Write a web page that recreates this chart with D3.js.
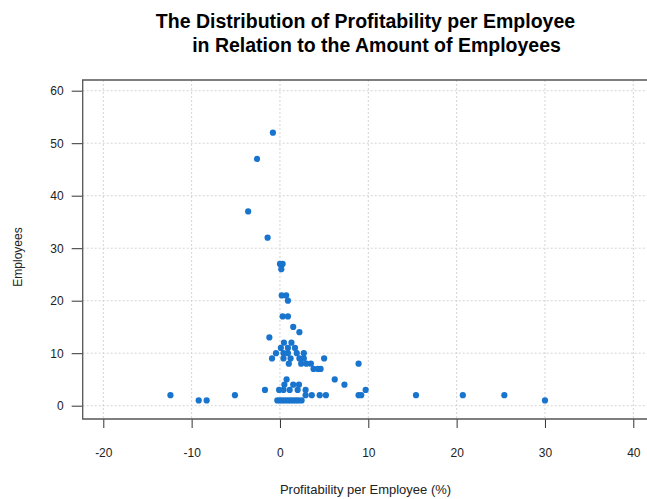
<!DOCTYPE html>
<html>
<head>
<meta charset="utf-8">
<script src="https://cdn.jsdelivr.net/npm/d3@7"></script>
<style>
  body { margin: 0; background: #fff; }
  text { font-family: "Liberation Sans", Arial, sans-serif; }
</style>
</head>
<body>
<div id="chart"></div>
<script>
// profitability per employee (%) and number of employees
var profit = [-0.8, -2.6, -3.6, -1.4,
              0, 0.3, 0.15,
              0.2, 0.7, 0.9,
              0.3, 0.9,
              1.5, 2.2, -1.2,
              0.45, 1.3, 0.1, 1.7, 0.9,
              -0.45, 0.4, 0.9, 1.9, 2.7,
              -0.9, 0.4, 1.2, 2.2, 2.7, 5.0,
              1.0, 2.4, 3.0, 3.5, 8.9,
              3.8, 4.3, 4.6,
              6.2, 0.75,
              7.3, 0.5, 1.5, 2.15,
              -1.7, -0.1, 0.4, 1.1, 2.0, 2.9, 9.7,
              -12.4, -5.1, 2.9, 3.6, 4.5, 5.2, 8.9, 9.2, 15.4, 20.7, 25.4,
              -9.2, -8.3, -0.3, 0, 0.3, 0.6, 0.9, 1.2, 1.5, 1.8, 2.1, 2.45, 30.0];
var employees = [52, 47, 37, 32,
                 27, 27, 26,
                 21, 21, 20,
                 17, 17,
                 15, 14, 13,
                 12, 12, 11, 11, 11,
                 10, 10, 10, 10, 10,
                 9, 9, 9, 9, 9, 9,
                 8, 8, 8, 8, 8,
                 7, 7, 7,
                 5, 5,
                 4, 4, 4, 4,
                 3, 3, 3, 3, 3, 3, 3,
                 2, 2, 2, 2, 2, 2, 2, 2, 2, 2, 2,
                 1, 1, 1, 1, 1, 1, 1, 1, 1, 1, 1, 1, 1];
var xTicks = [-20, -10, 0, 10, 20, 30, 40];
var yTicks = [0, 10, 20, 30, 40, 50, 60];

var data = profit.map(function(p, i) { return {x: p, y: employees[i]}; });

var svg = d3.select("#chart").append("svg")
            .attr("width", 647)
            .attr("height", 499);

var x = d3.scaleLinear().domain([-20, 40]).range([103.3, 633.3]);
var y = d3.scaleLinear().domain([0, 60]).range([405.7, 90.7]);

// panel edges (no right border in the original)
var pLeft = 82.7, pTop = 80, pBottom = 419, pRight = 647;

// grid
svg.append("g")
  .selectAll("line")
  .data(xTicks)
  .enter().append("line")
    .attr("x1", function(d) { return x(d); })
    .attr("x2", function(d) { return x(d); })
    .attr("y1", pTop)
    .attr("y2", pBottom)
    .attr("stroke", "#d4d4d4")
    .attr("stroke-dasharray", "2,2");

svg.append("g")
  .selectAll("line")
  .data(yTicks)
  .enter().append("line")
    .attr("x1", pLeft)
    .attr("x2", pRight)
    .attr("y1", function(d) { return y(d); })
    .attr("y2", function(d) { return y(d); })
    .attr("stroke", "#d4d4d4")
    .attr("stroke-dasharray", "2,2");

// axes
var xAxis = svg.append("g")
  .attr("transform", "translate(0," + pBottom + ")")
  .call(d3.axisBottom(x).tickValues(xTicks).tickFormat(String).tickSize(9).tickPadding(20));

var yAxis = svg.append("g")
  .attr("transform", "translate(" + pLeft + ",0)")
  .call(d3.axisLeft(y).tickValues(yTicks).tickFormat(String).tickSize(11).tickPadding(8));

[xAxis, yAxis].forEach(function(a) {
  a.select(".domain").remove();
  a.selectAll(".tick line").attr("stroke", "#333");
  a.selectAll(".tick text")
    .attr("font-family", "Liberation Sans, Arial, sans-serif")
    .attr("font-size", 12)
    .attr("fill", "#222");
});

// frame (left, top, bottom)
svg.append("path")
  .attr("d", "M" + pRight + "," + pTop + "H" + pLeft + "V" + pBottom + "H" + pRight)
  .attr("fill", "none")
  .attr("stroke", "#555")
  .attr("stroke-width", 1.3);

// points
svg.append("g")
  .selectAll("circle")
  .data(data)
  .enter().append("circle")
    .attr("cx", function(d) { return x(d.x); })
    .attr("cy", function(d) { return y(d.y); })
    .attr("r", 3.1)
    .attr("fill", "#1874CD");

// title
svg.append("text")
  .attr("x", 365.5)
  .attr("y", 28)
  .attr("text-anchor", "middle")
  .attr("font-weight", "bold")
  .attr("font-size", 19.5)
  .text("The Distribution of Profitability per Employee");

svg.append("text")
  .attr("x", 376.5)
  .attr("y", 52)
  .attr("text-anchor", "middle")
  .attr("font-weight", "bold")
  .attr("font-size", 19.5)
  .text("in Relation to the Amount of Employees");

// axis labels
svg.append("text")
  .attr("x", 365.5)
  .attr("y", 494)
  .attr("text-anchor", "middle")
  .attr("font-size", 13)
  .attr("fill", "#222")
  .text("Profitability per Employee (%)");

svg.append("text")
  .attr("transform", "translate(22,257) rotate(-90)")
  .attr("text-anchor", "middle")
  .attr("font-size", 12)
  .attr("fill", "#222")
  .text("Employees");
</script>
</body>
</html>
